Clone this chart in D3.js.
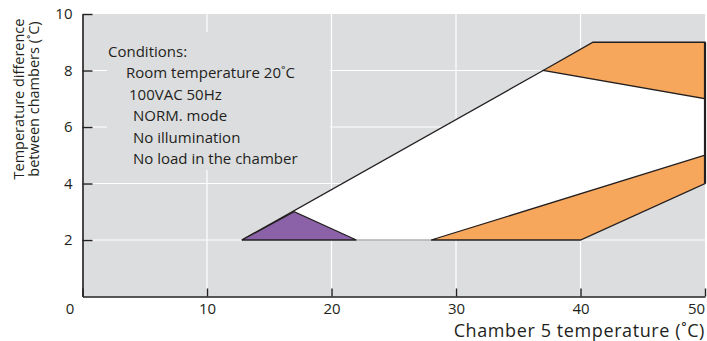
<!DOCTYPE html>
<html>
<head>
<meta charset="utf-8">
<script src="https://cdn.jsdelivr.net/npm/d3@7"></script>
<style>
  body { margin: 0; background: #fff; }
  text { font-family: "Open Sans", "Noto Sans", sans-serif; fill: #231f20; }
</style>
</head>
<body>
<div id="chart"></div>
<script>
const xTicks = [0, 10, 20, 30, 40, 50];
const yTicks = [2, 4, 6, 8, 10];

// operating regions (x = chamber 5 temp, y = temp difference)
const whiteX = [12.8, 37, 50, 50, 28, 12.8];
const whiteY = [2, 8, 7, 5, 2, 2];
const purpleX = [12.8, 17, 22];
const purpleY = [2, 3, 2];
const upperOrangeX = [37, 41, 50, 50];
const upperOrangeY = [8, 9, 9, 7];
const lowerOrangeX = [28, 40, 50, 50];
const lowerOrangeY = [2, 2, 4, 5];

const conditions = [
  'Conditions:',
  'Room temperature 20˚C',
  '100VAC 50Hz',
  'NORM. mode',
  'No illumination',
  'No load in the chamber'
];
const conditionIndent = [0, 18, 21, 25, 25, 25];

const W = 707, H = 341;
const x = d3.scaleLinear().domain([0, 50]).range([82.5, 705]);
const y = d3.scaleLinear().domain([0, 10]).range([296.5, 14]);

const svg = d3.select('#chart').append('svg')
  .attr('width', W).attr('height', H);

// plot background
svg.append('rect')
  .attr('x', x(0)).attr('y', y(10))
  .attr('width', x(50) - x(0)).attr('height', y(0) - y(10))
  .attr('fill', '#dcdddf');

// grid
svg.append('g').selectAll('line')
  .data([10, 20, 30, 40]).enter().append('line')
  .attr('x1', d => x(d)).attr('x2', d => x(d))
  .attr('y1', y(10)).attr('y2', y(0))
  .attr('stroke', '#fff').attr('stroke-width', 1.2);
svg.append('g').selectAll('line')
  .data([2, 4, 6, 8]).enter().append('line')
  .attr('x1', x(0)).attr('x2', x(50))
  .attr('y1', d => y(d)).attr('y2', d => y(d))
  .attr('stroke', '#fff').attr('stroke-width', 1.2);

// condition box hides the grid behind it
svg.append('rect')
  .attr('x', 107).attr('y', 32).attr('width', 223).attr('height', 138)
  .attr('fill', '#dcdddf');

svg.append('g').selectAll('text')
  .data(conditions).enter().append('text')
  .attr('x', (d, i) => 108 + conditionIndent[i])
  .attr('y', (d, i) => 57 + i * 21.4)
  .attr('font-size', 15)
  .text(d => d);

const pts = (xs, ys) => xs.map((v, i) => [x(v), y(ys[i])]);
const line = d3.line();

svg.append('path')
  .attr('d', line(pts(whiteX, whiteY)) + 'Z')
  .attr('fill', '#fff');

svg.append('path')
  .attr('d', line(pts([22, 28], [2, 2])))
  .attr('stroke', '#8a8a8a').attr('stroke-width', 1.2).attr('fill', 'none');

svg.append('path')
  .attr('d', line(pts([12.8, 37], [2, 8])))
  .attr('stroke', '#231f20').attr('stroke-width', 1.3).attr('fill', 'none');

svg.append('path')
  .attr('d', line(pts(upperOrangeX, upperOrangeY)) + 'Z')
  .attr('fill', '#f7a75c').attr('stroke', '#231f20').attr('stroke-width', 1.3);

svg.append('path')
  .attr('d', line(pts(lowerOrangeX, lowerOrangeY)) + 'Z')
  .attr('fill', '#f7a75c').attr('stroke', '#231f20').attr('stroke-width', 1.3);

svg.append('path')
  .attr('d', line(pts(purpleX, purpleY)) + 'Z')
  .attr('fill', '#8b62a8').attr('stroke', '#231f20').attr('stroke-width', 1.3);

// right edge of the region
svg.append('path')
  .attr('d', line(pts([50, 50], [9, 4])))
  .attr('stroke', '#231f20').attr('stroke-width', 2.2);

// axes
const xAxis = svg.append('g')
  .attr('transform', `translate(0,${y(0)})`)
  .call(d3.axisBottom(x).tickValues(xTicks).tickSizeInner(-8).tickSizeOuter(0).tickPadding(7));
const yAxis = svg.append('g')
  .attr('transform', `translate(${x(0)},0)`)
  .call(d3.axisLeft(y).tickValues(yTicks).tickSizeInner(-10).tickSizeOuter(0).tickPadding(10));

[xAxis, yAxis].forEach(g => {
  g.select('.domain').attr('stroke', '#231f20').attr('stroke-width', 1.6);
  g.selectAll('.tick line').attr('stroke', '#231f20').attr('stroke-width', 1.4);
  g.selectAll('.tick text').attr('font-size', 15).attr('fill', '#231f20')
    .style('font-family', '"Open Sans", sans-serif');
});
xAxis.selectAll('.tick text').filter(d => d === 0).attr('dx', -13);
xAxis.selectAll('.tick text').filter(d => d === 50).attr('dx', -9);

svg.append('text')
  .attr('x', 705).attr('y', 337)
  .attr('text-anchor', 'end')
  .attr('font-size', 18).attr('font-weight', 500)
  .attr('letter-spacing', 0.6)
  .text('Chamber 5 temperature (˚C)');

const yTitle = svg.append('text')
  .attr('transform', 'translate(24,99) rotate(-90)')
  .attr('text-anchor', 'middle')
  .attr('font-size', 14.5);
yTitle.append('tspan').attr('x', 0).attr('dy', 0).text('Temperature difference');
yTitle.append('tspan').attr('x', 0).attr('dy', 15).text('between chambers (˚C)');
</script>
</body>
</html>
